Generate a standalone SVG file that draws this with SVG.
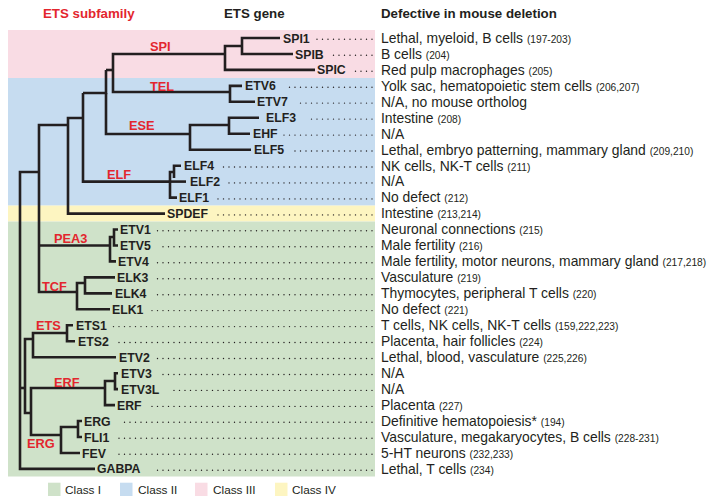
<svg xmlns="http://www.w3.org/2000/svg" width="713" height="504" viewBox="0 0 713 504">
<style>
text{font-family:"Liberation Sans",Arial,sans-serif;fill:#231f20}
.hd{font-size:13.3px;font-weight:bold}
.red{fill:#e3262e}
.g{font-size:12.3px;font-weight:bold}
.sub{font-size:12.8px;font-weight:bold;fill:#e3262e}
.d{font-size:13.9px}
.r{font-size:10.2px}
.lg{font-size:11.8px}
.dot{stroke:#231f20;stroke-width:1.4;stroke-linecap:round;stroke-dasharray:0 5.5;fill:none}
.tree{stroke:#231f20;stroke-width:2.6;fill:none;stroke-linecap:butt;stroke-linejoin:miter}
</style>
<rect width="713" height="504" fill="#ffffff"/>
<g id="bands">
<rect x="8" y="30" width="367" height="48" fill="#f9dce4"/>
<rect x="8" y="78" width="367" height="127.6" fill="#c6dcf0"/>
<rect x="8" y="205.6" width="367" height="15.9" fill="#fdf5c1"/>
<rect x="8" y="221.5" width="367" height="255" fill="#cfe2c9"/>
</g>
<g id="headers">
<text class="hd red" x="43" y="18">ETS subfamily</text>
<text class="hd" x="224" y="18">ETS gene</text>
<text class="hd" x="381" y="18">Defective in mouse deletion</text>
</g>
<g id="connectors" class="tree">
<path d="M280,38 H242 V54 H293"/>
<path d="M242,46 H225 V69.9 H315"/>
<path d="M225,54 H113 V92 H230"/>
<path d="M242,85.9 H230 V101.8 H255"/>
<path d="M106,70 H113"/>
<path d="M83,93 H106 V70"/>
<path d="M106,93 V134 H190"/>
<path d="M229,125 H190 V149.7 H251"/>
<path d="M259,117.8 H229 V133.8 H250"/>
<path d="M83,93 V181.6 H170"/>
<path d="M174,172 H170 V197.6 H177"/>
<path d="M170,181.6 H186"/>
<path d="M181,165.7 H174 V178"/>
<path d="M83,118 H68 V213.6 H165"/>
<path d="M68,125 H39 V292 H77"/>
<path d="M39,245.5 H110"/>
<path d="M114,237 H110 V261.4 H116"/>
<path d="M118,229.5 H114 V245.5 H118"/>
<path d="M85,283 H77 V309.3 H110"/>
<path d="M115,277.4 H85 V293.4 H112"/>
<path d="M39,172 H20 V468.9 H95"/>
<path d="M20,388 H25"/>
<path d="M33,339 H25 V413 H31"/>
<path d="M67,333 H33 V357.2 H116"/>
<path d="M73,325.3 H67 V341.2 H75"/>
<path d="M105,388 H31 V435 H61"/>
<path d="M115,381 H105 V405.1 H115"/>
<path d="M118,373.2 H115 V389.1 H118"/>
<path d="M78,427 H61 V453 H80"/>
<path d="M82,421 H78 V437 H82"/>
</g>
<g id="subfamilies">
<text id="sf-SPI" class="sub" x="150" y="50.5">SPI</text>
<text id="sf-TEL" class="sub" x="150" y="90.7">TEL</text>
<text id="sf-ESE" class="sub" x="129" y="130">ESE</text>
<text id="sf-ELF" class="sub" x="107" y="178.5">ELF</text>
<text id="sf-PEA3" class="sub" x="54" y="242.5">PEA3</text>
<text id="sf-TCF" class="sub" x="42" y="290.5">TCF</text>
<text id="sf-ETS" class="sub" x="36" y="330">ETS</text>
<text id="sf-ERF" class="sub" x="54" y="386.5">ERF</text>
<text id="sf-ERG" class="sub" x="27" y="448">ERG</text>
</g>
<g id="n-SPI1"><text class="g" x="283" y="42.5">SPI1</text><path class="dot" d="M372,39.3 H312"/><text class="d" x="381" y="42.8">Lethal, myeloid, B cells <tspan class="r">(197-203)</tspan></text></g>
<g id="n-SPIB"><text class="g" x="295" y="58.5">SPIB</text><path class="dot" d="M372,55.3 H333"/><text class="d" x="381" y="58.8">B cells <tspan class="r">(204)</tspan></text></g>
<g id="n-SPIC"><text class="g" x="317" y="74.4">SPIC</text><path class="dot" d="M372,71.2 H352"/><text class="d" x="381" y="74.7">Red pulp macrophages <tspan class="r">(205)</tspan></text></g>
<g id="n-ETV6"><text class="g" x="245" y="90.4">ETV6</text><path class="dot" d="M372,87.2 H287"/><text class="d" x="381" y="90.7">Yolk sac, hematopoietic stem cells <tspan class="r">(206,207)</tspan></text></g>
<g id="n-ETV7"><text class="g" x="257" y="106.3">ETV7</text><path class="dot" d="M372,103.1 H297"/><text class="d" x="381" y="106.6">N/A, no mouse ortholog</text></g>
<g id="n-ELF3"><text class="g" x="266" y="122.3">ELF3</text><path class="dot" d="M372,119.1 H306"/><text class="d" x="381" y="122.6">Intestine <tspan class="r">(208)</tspan></text></g>
<g id="n-EHF"><text class="g" x="253" y="138.3">EHF</text><path class="dot" d="M372,135.1 H283"/><text class="d" x="381" y="138.6">N/A</text></g>
<g id="n-ELF5"><text class="g" x="254" y="154.2">ELF5</text><path class="dot" d="M372,151 H292"/><text class="d" x="381" y="154.5">Lethal, embryo patterning, mammary gland <tspan class="r">(209,210)</tspan></text></g>
<g id="n-ELF4"><text class="g" x="184" y="170.2">ELF4</text><path class="dot" d="M372,167 H221"/><text class="d" x="381" y="170.5">NK cells, NK-T cells <tspan class="r">(211)</tspan></text></g>
<g id="n-ELF2"><text class="g" x="190" y="186.1">ELF2</text><path class="dot" d="M372,182.9 H226"/><text class="d" x="381" y="186.4">N/A</text></g>
<g id="n-ELF1"><text class="g" x="179" y="202.1">ELF1</text><path class="dot" d="M372,198.9 H216"/><text class="d" x="381" y="202.4">No defect <tspan class="r">(212)</tspan></text></g>
<g id="n-SPDEF"><text class="g" x="167" y="218.1">SPDEF</text><path class="dot" d="M372,214.9 H214"/><text class="d" x="381" y="218.4">Intestine <tspan class="r">(213,214)</tspan></text></g>
<g id="n-ETV1"><text class="g" x="120" y="234">ETV1</text><path class="dot" d="M372,230.8 H157"/><text class="d" x="381" y="234.3">Neuronal connections <tspan class="r">(215)</tspan></text></g>
<g id="n-ETV5"><text class="g" x="120" y="250">ETV5</text><path class="dot" d="M372,246.8 H158"/><text class="d" x="381" y="250.3">Male fertility <tspan class="r">(216)</tspan></text></g>
<g id="n-ETV4"><text class="g" x="118" y="265.9">ETV4</text><path class="dot" d="M372,262.7 H157"/><text class="d" x="381" y="266.2">Male fertility, motor neurons, mammary gland <tspan class="r">(217,218)</tspan></text></g>
<g id="n-ELK3"><text class="g" x="117" y="281.9">ELK3</text><path class="dot" d="M372,278.7 H157"/><text class="d" x="381" y="282.2">Vasculature <tspan class="r">(219)</tspan></text></g>
<g id="n-ELK4"><text class="g" x="115" y="297.9">ELK4</text><path class="dot" d="M372,294.7 H153"/><text class="d" x="381" y="298.2">Thymocytes, peripheral T cells <tspan class="r">(220)</tspan></text></g>
<g id="n-ELK1"><text class="g" x="112" y="313.8">ELK1</text><path class="dot" d="M372,310.6 H150"/><text class="d" x="381" y="314.1">No defect <tspan class="r">(221)</tspan></text></g>
<g id="n-ETS1"><text class="g" x="76" y="329.8">ETS1</text><path class="dot" d="M372,326.6 H112"/><text class="d" x="381" y="330.1">T cells, NK cells, NK-T cells <tspan class="r">(159,222,223)</tspan></text></g>
<g id="n-ETS2"><text class="g" x="78" y="345.7">ETS2</text><path class="dot" d="M372,342.5 H115"/><text class="d" x="381" y="346">Placenta, hair follicles <tspan class="r">(224)</tspan></text></g>
<g id="n-ETV2"><text class="g" x="119" y="361.7">ETV2</text><path class="dot" d="M372,358.5 H156"/><text class="d" x="381" y="362">Lethal, blood, vasculature <tspan class="r">(225,226)</tspan></text></g>
<g id="n-ETV3"><text class="g" x="121" y="377.7">ETV3</text><path class="dot" d="M372,374.5 H160"/><text class="d" x="381" y="378">N/A</text></g>
<g id="n-ETV3L"><text class="g" x="121" y="393.6">ETV3L</text><path class="dot" d="M372,390.4 H169"/><text class="d" x="381" y="393.9">N/A</text></g>
<g id="n-ERF"><text class="g" x="117" y="409.6">ERF</text><path class="dot" d="M372,406.4 H149"/><text class="d" x="381" y="409.9">Placenta <tspan class="r">(227)</tspan></text></g>
<g id="n-ERG"><text class="g" x="84" y="425.5">ERG</text><path class="dot" d="M372,422.3 H120"/><text class="d" x="381" y="425.8">Definitive hematopoiesis* <tspan class="r">(194)</tspan></text></g>
<g id="n-FLI1"><text class="g" x="84" y="441.5">FLI1</text><path class="dot" d="M372,438.3 H118"/><text class="d" x="381" y="441.8">Vasculature, megakaryocytes, B cells <tspan class="r">(228-231)</tspan></text></g>
<g id="n-FEV"><text class="g" x="82" y="457.5">FEV</text><path class="dot" d="M372,454.3 H114"/><text class="d" x="381" y="457.8">5-HT neurons <tspan class="r">(232,233)</tspan></text></g>
<g id="n-GABPA"><text class="g" x="97" y="473.4">GABPA</text><path class="dot" d="M372,470.2 H153"/><text class="d" x="381" y="473.7">Lethal, T cells <tspan class="r">(234)</tspan></text></g>
<g id="legend">
<rect x="48" y="482.7" width="12.5" height="13.3" fill="#cfe2c9"/><text class="lg" x="65" y="494">Class I</text>
<rect x="120" y="482.7" width="12.5" height="13.3" fill="#c6dcf0"/><text class="lg" x="138" y="494">Class II</text>
<rect x="195" y="482.7" width="12.5" height="13.3" fill="#f9dce4"/><text class="lg" x="213" y="494">Class III</text>
<rect x="275" y="482.7" width="12.5" height="13.3" fill="#fdf5c1"/><text class="lg" x="292" y="494">Class IV</text>
</g>
</svg>
